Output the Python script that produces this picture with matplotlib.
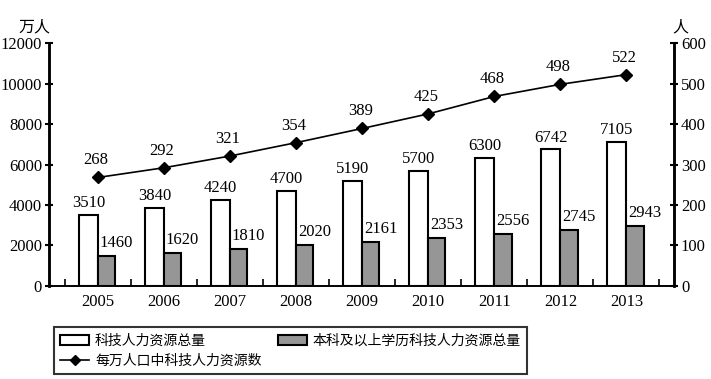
import matplotlib
matplotlib.use("Agg")
import matplotlib.pyplot as plt
import numpy as np
from matplotlib.lines import Line2D
from matplotlib.patches import Patch

years = ["2005", "2006", "2007", "2008", "2009", "2010", "2011", "2012", "2013"]
total = [3510, 3840, 4240, 4700, 5190, 5700, 6300, 6742, 7105]
bachelor = [1460, 1620, 1810, 2020, 2161, 2353, 2556, 2745, 2943]
per_10k = [268, 292, 321, 354, 389, 425, 468, 498, 522]

legend_labels = ["科技人力资源总量", "本科及以上学历科技人力资源总量", "每万人口中科技人力资源数"]
left_unit = "万人"
right_unit = "人"

FONT = ["Liberation Serif", "Noto Sans CJK SC"]
CJK = ["Noto Sans CJK SC", "Liberation Serif"]
plt.rcParams['font.family'] = FONT
plt.rcParams['font.size'] = 12

fig = plt.figure(figsize=(7.11, 3.79), dpi=100)
ax = fig.add_axes([0.069, 0.2454, 0.879, 0.6411])
ax2 = ax.twinx()

x = np.arange(len(years))
w1, w2 = 0.29, 0.26
b1 = ax.bar(x - w1 / 2, total, w1, color="white", edgecolor="black", linewidth=1.5)
b2 = ax.bar(x + w2 / 2, bachelor, w2, color="#969696", edgecolor="black", linewidth=1.5)
for xi, v in zip(x, total):
    ax.text(xi - w1 / 2, v + 590, str(v), ha="center", va="center", fontsize=12)
for xi, v in zip(x, bachelor):
    ax.text(xi + w2 / 2 + 0.15, v + 640, str(v), ha="center", va="center", fontsize=12)

ax2.plot(x, per_10k, color="black", linewidth=1.2, marker="D", markersize=6)
for xi, v in zip(x, per_10k):
    ax2.text(xi - 0.03, v + 42, str(v), ha="center", va="center", fontsize=12)

ax.set_xlim(-0.74, 8.72)
ax.set_ylim(0, 12000)
ax2.set_ylim(0, 600)
ax.set_yticks(range(0, 12001, 2000))
ax2.set_yticks(range(0, 601, 100))
ax.set_xticks(x)
ax.set_xticklabels(years)
ax.set_xticks(np.arange(-0.5, 8.6, 1), minor=True)
ax.tick_params(axis="x", which="major", length=0, pad=6, labelsize=12)
ax.tick_params(axis="x", which="minor", direction="in", length=5, width=1.2)
ax.tick_params(axis="y", direction="inout", length=6, width=1.5, labelsize=12, pad=2)
ax2.tick_params(axis="y", direction="inout", length=6, width=1.5, labelsize=12, pad=2)

for a in (ax, ax2):
    a.spines["top"].set_visible(False)
    a.spines["left"].set_linewidth(1.8)
    a.spines["right"].set_linewidth(1.8)
    a.spines["bottom"].set_linewidth(1.2)

fig.text(0.049, 0.929, left_unit, ha="center", va="center", fontsize=11.5, family=CJK)
fig.text(0.957, 0.929, right_unit, ha="center", va="center", fontsize=11.5, family=CJK)

handles = [
    Patch(facecolor="white", edgecolor="black", linewidth=1.5),
    Line2D([0], [0], color="black", linewidth=1.2, marker="D", markersize=5),
    Patch(facecolor="#969696", edgecolor="black", linewidth=1.5),
]
labels = [legend_labels[0], legend_labels[2], legend_labels[1]]
leg = fig.legend(handles, labels, ncol=2, loc="lower left",
                 bbox_to_anchor=(0.076, 0.013, 0.665, 0.132), mode="expand",
                 frameon=True, fancybox=False, edgecolor="black",
                 prop={"family": CJK, "size": 10}, handlelength=2.1,
                 handletextpad=0.4, labelspacing=0.45, borderpad=0.45,
                 borderaxespad=0, columnspacing=4.5)
leg.get_frame().set_linewidth(1.5)

fig.savefig("out.png", dpi=100)
